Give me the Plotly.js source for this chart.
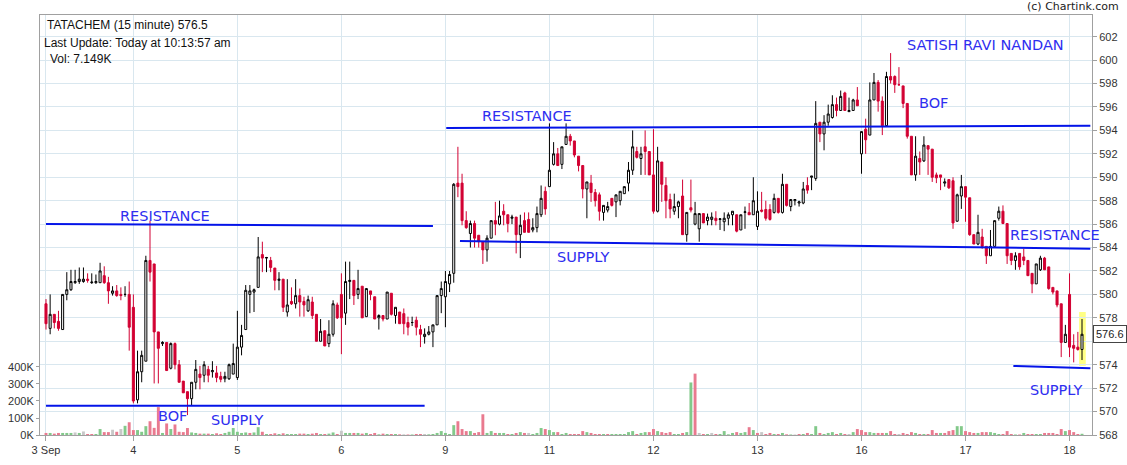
<!DOCTYPE html>
<html><head><meta charset="utf-8">
<script src="https://cdn.plot.ly/plotly-3.0.1.min.js"></script>
<style>html,body{margin:0;padding:0;background:#fff}#chart{width:1127px;height:465px}</style>
</head><body><div id="chart"></div>
<script>
// trading days and number of 15-minute candles shown for each
const dayLabels = ['3 Sep','4','5','6','9','11','12','13','16','17','18'];
const dayCounts = [21,25,25,25,25,25,25,25,25,25,4];

const open = [
 579.2,577.1,578.3,577.7,577.0,580.0,580.4,581.0,581.1,581.1,581.3,581.0,581.0,581.0,581.6,581.0,580.1,580.3,580.0,580.0,580.0,
 578.9,571.0,573.4,574.3,582.9,582.6,576.8,575.8,575.9,573.7,575.8,574.0,572.6,571.7,571.1,572.5,573.2,573.1,573.6,573.4,573.3,573.0,572.8,572.8,573.2,
 572.9,575.5,577.0,580.0,580.2,580.6,583.4,583.1,582.9,582.25,581.2,581.3,578.5,579.4,579.2,579.9,579.4,578.6,579.35,578.3,576.0,576.9,575.8,576.6,579.1,
 580.0,578.4,581.1,581.2,580.0,580.7,578.1,580.3,579.8,578.0,578.2,577.9,580.1,578.2,578.5,578.36,577.6,577.6,577.8,577.0,576.4,576.6,576.8,577.4,579.9,
 579.8,580.9,581.8,589.5,589.5,586.3,585.2,586.05,585.05,584.5,583.8,584.8,586.3,586.0,587.1,586.8,586.5,586.6,585.1,586.3,586.4,585.5,585.7,586.8,588.8,
 589.2,591.1,592.0,591.1,592.8,593.5,593.1,591.8,591.0,589.0,589.5,588.7,588.5,587.0,587.2,588.2,587.9,588.0,588.6,589.5,590.6,592.2,591.6,592.6,592.2,
 590.2,587.1,591.3,589.3,588.1,587.1,587.5,588.4,585.1,587.4,586.0,585.6,586.9,586.3,586.4,586.5,586.4,586.2,586.5,586.8,586.8,585.5,587.0,587.0,586.8,
 585.8,587.2,587.25,587.25,587.0,588.2,587.0,589.4,587.5,588.0,587.8,587.8,589.3,590.0,589.9,594.7,593.7,594.7,595.1,596.2,595.7,597.2,595.6,595.7,596.6,
 592.0,594.1,593.6,596.6,598.1,596.5,594.4,598.6,598.6,597.9,597.8,596.3,593.5,590.2,591.6,591.4,592.7,592.4,590.2,590.2,589.5,589.8,589.7,586.25,588.4,
 589.2,588.25,585.1,584.3,584.9,584.1,583.3,584.1,586.5,587.1,586.05,583.5,582.9,583.5,583.2,582.9,581.8,580.9,582.1,583.1,582.35,580.6,580.3,579.2,575.9,
 580.0,575.65,575.5,575.3
];
const high = [
 579.6,580.0,578.3,578.6,580.0,581.9,582.1,582.1,582.3,582.3,581.8,581.8,581.7,582.7,582.4,581.5,580.7,580.8,580.6,580.7,581.1,
 580.0,575.2,575.2,583.3,586.3,582.6,576.8,576.0,575.9,575.9,575.9,574.4,572.6,571.7,572.5,574.4,573.9,574.3,573.9,574.3,573.9,573.4,573.4,574.1,575.8,
 578.6,577.4,580.8,580.8,580.5,584.9,584.5,583.2,583.2,582.25,581.9,581.3,581.3,580.6,581.3,580.5,579.8,579.9,579.8,578.3,577.9,576.9,577.8,579.5,579.3,
 581.8,582.8,582.8,581.2,582.1,580.7,580.5,580.3,579.8,578.3,578.2,580.2,580.1,578.9,578.5,578.8,578.1,578.1,578.1,577.4,577.1,577.3,577.4,579.9,581.1,
 582.0,582.0,589.5,592.6,590.3,587.1,586.3,586.3,585.05,584.5,585.05,586.3,587.9,588.0,587.7,586.8,586.8,586.6,586.8,587.0,587.0,586.5,587.5,589.3,589.2,
 594.6,593.0,592.5,592.6,594.6,593.7,593.1,591.8,591.0,589.6,590.2,589.0,588.7,587.6,587.9,588.2,588.5,588.8,589.2,591.3,594.0,592.6,592.6,594.0,592.2,
 594.1,592.6,591.3,590.0,588.6,588.6,588.0,589.8,587.0,589.8,587.9,586.9,586.9,586.9,587.0,587.1,586.5,587.0,587.0,587.1,586.8,586.8,587.5,587.8,590.0,
 588.8,588.75,588.0,587.7,588.6,588.2,590.3,589.4,588.1,588.1,588.0,589.6,590.0,590.1,596.5,594.7,595.3,596.2,597.0,596.8,597.4,597.3,596.8,596.7,597.7,
 593.9,595.0,598.1,598.9,598.3,596.9,599.0,600.6,598.7,599.4,597.8,596.3,593.5,593.5,592.2,593.5,592.7,592.4,590.4,590.2,589.9,589.8,590.0,588.6,590.2,
 589.2,588.25,585.1,586.8,585.6,584.1,585.5,586.3,587.5,587.6,586.05,583.5,583.6,583.5,583.9,582.9,581.8,582.6,583.3,583.2,582.35,580.6,580.3,579.2,577.4,
 581.8,576.6,576.8,577.9
];
const low = [
 577.0,576.6,577.1,576.9,577.0,579.5,580.3,580.9,580.9,581.0,581.0,580.9,580.9,581.0,580.9,579.2,579.9,579.8,579.5,579.8,575.2,
 570.7,570.7,572.5,574.3,581.1,572.4,572.4,575.6,573.5,573.6,573.6,572.5,571.6,569.7,570.5,571.9,571.9,572.5,572.5,572.9,572.5,572.5,572.5,572.7,573.2,
 572.7,574.8,577.0,578.4,578.5,580.6,581.9,581.9,581.9,580.35,580.35,578.5,578.1,579.1,578.8,578.1,578.1,578.5,577.9,576.0,576.0,575.6,575.5,576.4,577.9,
 574.9,577.4,579.6,579.1,579.6,578.0,578.1,579.5,577.9,577.0,577.7,577.9,578.2,577.5,577.5,576.6,576.5,577.3,576.5,575.5,575.8,576.5,575.5,577.4,578.4,
 577.2,580.2,581.0,588.3,585.9,585.6,584.0,584.0,584.0,582.6,582.8,584.8,585.05,585.9,585.9,585.3,586.0,583.5,583.1,585.3,585.3,585.3,585.3,586.6,586.8,
 589.2,591.0,591.0,590.7,592.8,592.7,591.7,590.5,588.2,586.5,587.9,587.5,586.3,586.3,587.0,587.5,586.6,587.6,588.6,588.8,590.2,591.6,590.2,590.2,590.2,
 586.9,587.0,587.9,586.5,586.5,586.8,586.5,585.1,584.5,587.0,585.9,584.5,586.1,585.9,585.9,585.9,585.5,585.4,585.9,585.9,585.3,585.5,585.6,586.8,586.8,
 585.5,587.0,586.3,586.3,586.9,586.9,586.9,587.5,587.1,587.6,587.5,587.7,588.6,588.9,589.7,593.0,592.3,594.4,595.0,595.2,595.7,595.7,595.6,595.7,596.1,
 590.3,592.0,593.6,596.6,595.6,593.6,594.3,598.0,597.2,597.8,595.9,593.3,590.2,589.7,590.2,591.3,590.2,589.6,589.5,588.9,589.2,589.0,585.6,586.2,587.3,
 586.2,585.0,584.3,584.2,583.9,582.6,583.3,584.1,586.3,586.0,582.6,582.5,582.1,582.1,582.5,581.6,580.1,580.9,582.0,582.1,580.4,580.0,578.9,574.65,575.9,
 574.65,574.2,575.2,574.4
];
const close = [
 577.5,578.3,577.6,577.1,580.0,580.4,581.1,581.1,581.3,581.3,581.2,581.05,581.1,582.0,581.0,580.3,580.3,579.9,579.9,580.0,577.2,
 570.9,573.4,574.8,582.9,581.9,576.8,575.4,575.9,573.5,575.8,574.0,572.5,571.6,571.1,572.5,573.6,572.9,574.0,573.1,573.5,572.9,572.75,573.0,574.0,574.1,
 575.5,576.5,580.35,580.3,580.4,583.2,583.1,583.15,582.3,581.2,581.3,578.9,579.1,579.2,579.9,579.35,579.1,579.55,578.2,576.0,576.85,575.6,576.6,579.2,578.0,
 578.0,581.1,581.2,579.9,580.5,578.0,580.5,580.0,577.9,578.2,577.9,580.2,578.3,578.9,577.5,577.5,577.2,577.6,577.2,576.6,576.6,576.8,577.4,579.9,580.5,
 581.1,581.7,589.4,589.2,586.3,585.7,586.05,584.8,584.5,583.8,584.8,586.3,586.0,586.7,586.8,586.05,586.6,585.1,585.9,585.3,585.3,585.7,586.9,588.2,587.3,
 590.6,592.0,591.0,592.6,593.5,593.1,591.9,591.0,589.0,589.6,588.7,588.0,587.1,587.6,587.5,587.6,588.5,588.8,589.2,590.6,592.6,591.7,592.0,592.2,590.2,
 587.1,591.4,589.4,588.0,587.3,587.5,587.9,585.1,587.0,587.2,586.9,586.9,586.1,586.6,586.6,586.3,586.45,586.5,586.8,587.1,585.4,586.8,587.05,586.8,588.0,
 587.1,587.1,586.5,586.4,588.2,587.0,589.4,587.6,588.1,588.1,587.9,589.0,588.9,590.1,594.6,593.7,594.7,595.4,596.2,595.7,596.9,595.7,595.7,596.6,596.1,
 593.9,593.2,596.6,598.1,596.5,594.4,598.6,598.3,597.9,597.9,596.3,593.5,590.2,591.8,591.3,592.75,592.4,590.0,589.95,590.0,589.6,589.1,586.1,588.5,589.2,
 588.3,585.1,584.3,585.3,584.1,583.3,584.1,586.3,587.1,586.05,583.3,582.9,583.3,582.35,582.9,581.6,580.9,582.6,583.1,582.1,580.5,580.2,579.1,575.9,576.6,
 575.5,575.4,575.3,576.6
];
// volume in thousands
const volumeK = [
 12,12,8,12,12,12,12,15,12,21,6,6,6,35,17,17,31,19,35,54,75,
 29,29,19,52,81,42,164,12,68,35,62,19,17,41,15,12,8,8,8,6,10,6,12,19,41,
 19,12,15,12,15,46,19,6,6,10,6,10,6,6,6,8,8,6,8,12,6,6,8,15,6,
 25,12,12,12,12,8,12,6,12,4,8,6,6,6,4,4,3,3,6,6,6,4,6,12,23,
 12,6,58,81,35,23,23,12,17,122,12,23,12,12,12,6,6,12,17,12,12,6,12,41,35,
 29,17,17,6,12,6,6,6,23,17,12,6,6,6,6,6,6,6,6,17,23,6,12,17,17,
 35,23,17,12,17,6,6,12,17,309,361,12,6,6,12,6,6,23,4,12,17,12,17,46,29,
 12,17,6,12,6,6,12,4,3,3,6,6,12,6,52,12,6,12,17,6,12,6,6,17,35,
 29,17,17,12,12,12,12,23,6,6,12,6,17,12,6,6,6,29,12,12,12,23,29,52,52,
 23,17,12,12,17,17,17,12,6,6,23,6,3,3,12,6,6,6,6,12,12,12,6,35,23,
 29,17,6,7.149
];
// hand-drawn annotations (text labels and trend lines) in chart units
const noteTexts = ['RESISTANCE','BOF','SUPPLY','RESISTANCE','SUPPLY','SATISH RAVI NANDAN','BOF','RESISTANCE','SUPPLY'];
const noteX = [28.6,30.3,45.9,115.6,129.1,225.7,213.2,242.5,242.8];
const noteY = [586.7,569.6,569.25,595.2,583.2,601.3,596.3,585.05,571.8];
const lineX0 = [0,0,96.2,99.5,232.5];
const lineX1 = [93,91,251,251,251];
const lineY0 = [586.0,570.5,594.2,584.55,573.9];
const lineY1 = [585.85,570.5,594.4,583.9,573.7];
const priceTicks = [568,570,572,574,576,578,580,582,584,586,588,590,592,594,596,598,600,602];
const volTicks = [0,100,200,300,400];

const N = open.length;
const idx = open.map((_, i) => i);
const dayStarts = [];
let acc = 0;
dayCounts.forEach(c => { dayStarts.push(acc); acc += c; });

const volColors = close.map((c, i) => {
  const prev = i > 0 ? close[i - 1] : open[i];
  if (c > prev) return '#82c98a';
  if (c < prev) return '#e97a8f';
  return '#c8c8c8';
});

const RED = '#d20032';
const BLUE_LINE = '#0414e8';
const BLUE_TEXT = '#2e2ef0';

const traces = [
  { type: 'bar', x: idx, y: volumeK, yaxis: 'y', marker: { color: volColors, line: { width: 0 } },
    width: 0.7, hoverinfo: 'skip' },
  { type: 'candlestick', x: idx, open: open, high: high, low: low, close: close, yaxis: 'y2',
    increasing: { line: { color: '#000000', width: 1 }, fillcolor: '#ffffff' },
    decreasing: { line: { color: RED, width: 1 }, fillcolor: RED },
    whiskerwidth: 0, hoverinfo: 'skip' }
];

const last = N - 1;
const shapes = [{
  type: 'rect', xref: 'x', yref: 'y2', layer: 'below',
  x0: last - 0.7, x1: last + 0.9, y0: low[last] - 0.5, y1: high[last] + 0.6,
  fillcolor: 'rgba(255,255,110,0.85)', line: { width: 0 }
}];
lineX0.forEach((x0, i) => shapes.push({
  type: 'line', xref: 'x', yref: 'y2', x0: x0, x1: lineX1[i], y0: lineY0[i], y1: lineY1[i],
  line: { color: BLUE_LINE, width: 2 }
}));

const annotations = noteTexts.map((t, i) => ({
  xref: 'x', yref: 'y2', x: noteX[i], y: noteY[i], text: t, showarrow: false,
  xanchor: 'center', yanchor: 'middle',
  font: { family: 'DejaVu Sans, Verdana, sans-serif', size: 14.5, color: BLUE_TEXT }
}));
const infoFont = { family: 'Liberation Sans, Arial, sans-serif', size: 12, color: '#111' };
annotations.push(
  { xref: 'paper', yref: 'paper', x: 0.005, y: 0.976, xanchor: 'left', yanchor: 'middle', showarrow: false,
    text: 'TATACHEM (15 minute) 576.5', font: infoFont },
  { xref: 'paper', yref: 'paper', x: 0.002, y: 0.933, xanchor: 'left', yanchor: 'middle', showarrow: false,
    text: 'Last Update: Today at 10:13:57 am', font: infoFont },
  { xref: 'paper', yref: 'paper', x: 0.0075, y: 0.895, xanchor: 'left', yanchor: 'middle', showarrow: false,
    text: 'Vol: ' + volumeK[last].toFixed(3) + 'K', font: infoFont },
  { xref: 'paper', yref: 'paper', x: 1.0276, y: 1.02, xanchor: 'right', yanchor: 'middle', showarrow: false,
    text: '(c) Chartink.com', font: { family: 'DejaVu Sans, Verdana, sans-serif', size: 11, color: '#222' } },
  { xref: 'paper', yref: 'y2', x: 1.001, y: close[last], xanchor: 'left', yanchor: 'middle', showarrow: false,
    text: close[last].toFixed(1), bgcolor: '#ffffff', bordercolor: '#444', borderwidth: 1, borderpad: 2,
    font: { family: 'Liberation Sans, Arial, sans-serif', size: 11, color: '#222' } }
);

const GRID = '#d9e7ef';
const AXIS = '#a0a0a0';
const tickFont = { family: 'Liberation Sans, Arial, sans-serif', size: 11, color: '#333' };
// the last-price box sits over the nearest price label, so that label is left blank
const priceTickText = priceTicks.map(v => Math.abs(v - close[last]) < 1.2 ? '' : String(v));

const layout = {
  width: 1127, height: 465,
  margin: { l: 40, r: 35, t: 15, b: 30 },
  paper_bgcolor: '#ffffff', plot_bgcolor: '#ffffff',
  showlegend: false, hovermode: false, dragmode: false,
  xaxis: {
    type: 'linear', range: [-1.44, 251.4], tickmode: 'array', tickvals: dayStarts, ticktext: dayLabels,
    showgrid: true, gridcolor: GRID, gridwidth: 1, zeroline: false,
    showline: true, linecolor: AXIS, linewidth: 1, mirror: true,
    ticks: 'outside', ticklen: 5, tickcolor: AXIS, tickfont: tickFont,
    rangeslider: { visible: false }, fixedrange: true
  },
  yaxis: {
    range: [0, 2470], side: 'left', tickmode: 'array', tickvals: volTicks,
    ticktext: volTicks.map(v => v + 'K'), showgrid: false, zeroline: false,
    showline: true, linecolor: AXIS, linewidth: 1,
    ticks: 'outside', ticklen: 3, tickcolor: AXIS, tickfont: tickFont, fixedrange: true
  },
  yaxis2: {
    range: [568, 603.85], side: 'right', overlaying: 'y', tickmode: 'array', tickvals: priceTicks,
    ticktext: priceTickText,
    showgrid: true, gridcolor: GRID, gridwidth: 1, zeroline: false,
    showline: true, linecolor: AXIS, linewidth: 1, mirror: true,
    ticks: 'outside', ticklen: 4, tickcolor: AXIS, tickfont: tickFont, fixedrange: true
  },
  shapes: shapes,
  annotations: annotations
};

Plotly.newPlot('chart', traces, layout, { displayModeBar: false, staticPlot: true });
</script>
</body></html>
